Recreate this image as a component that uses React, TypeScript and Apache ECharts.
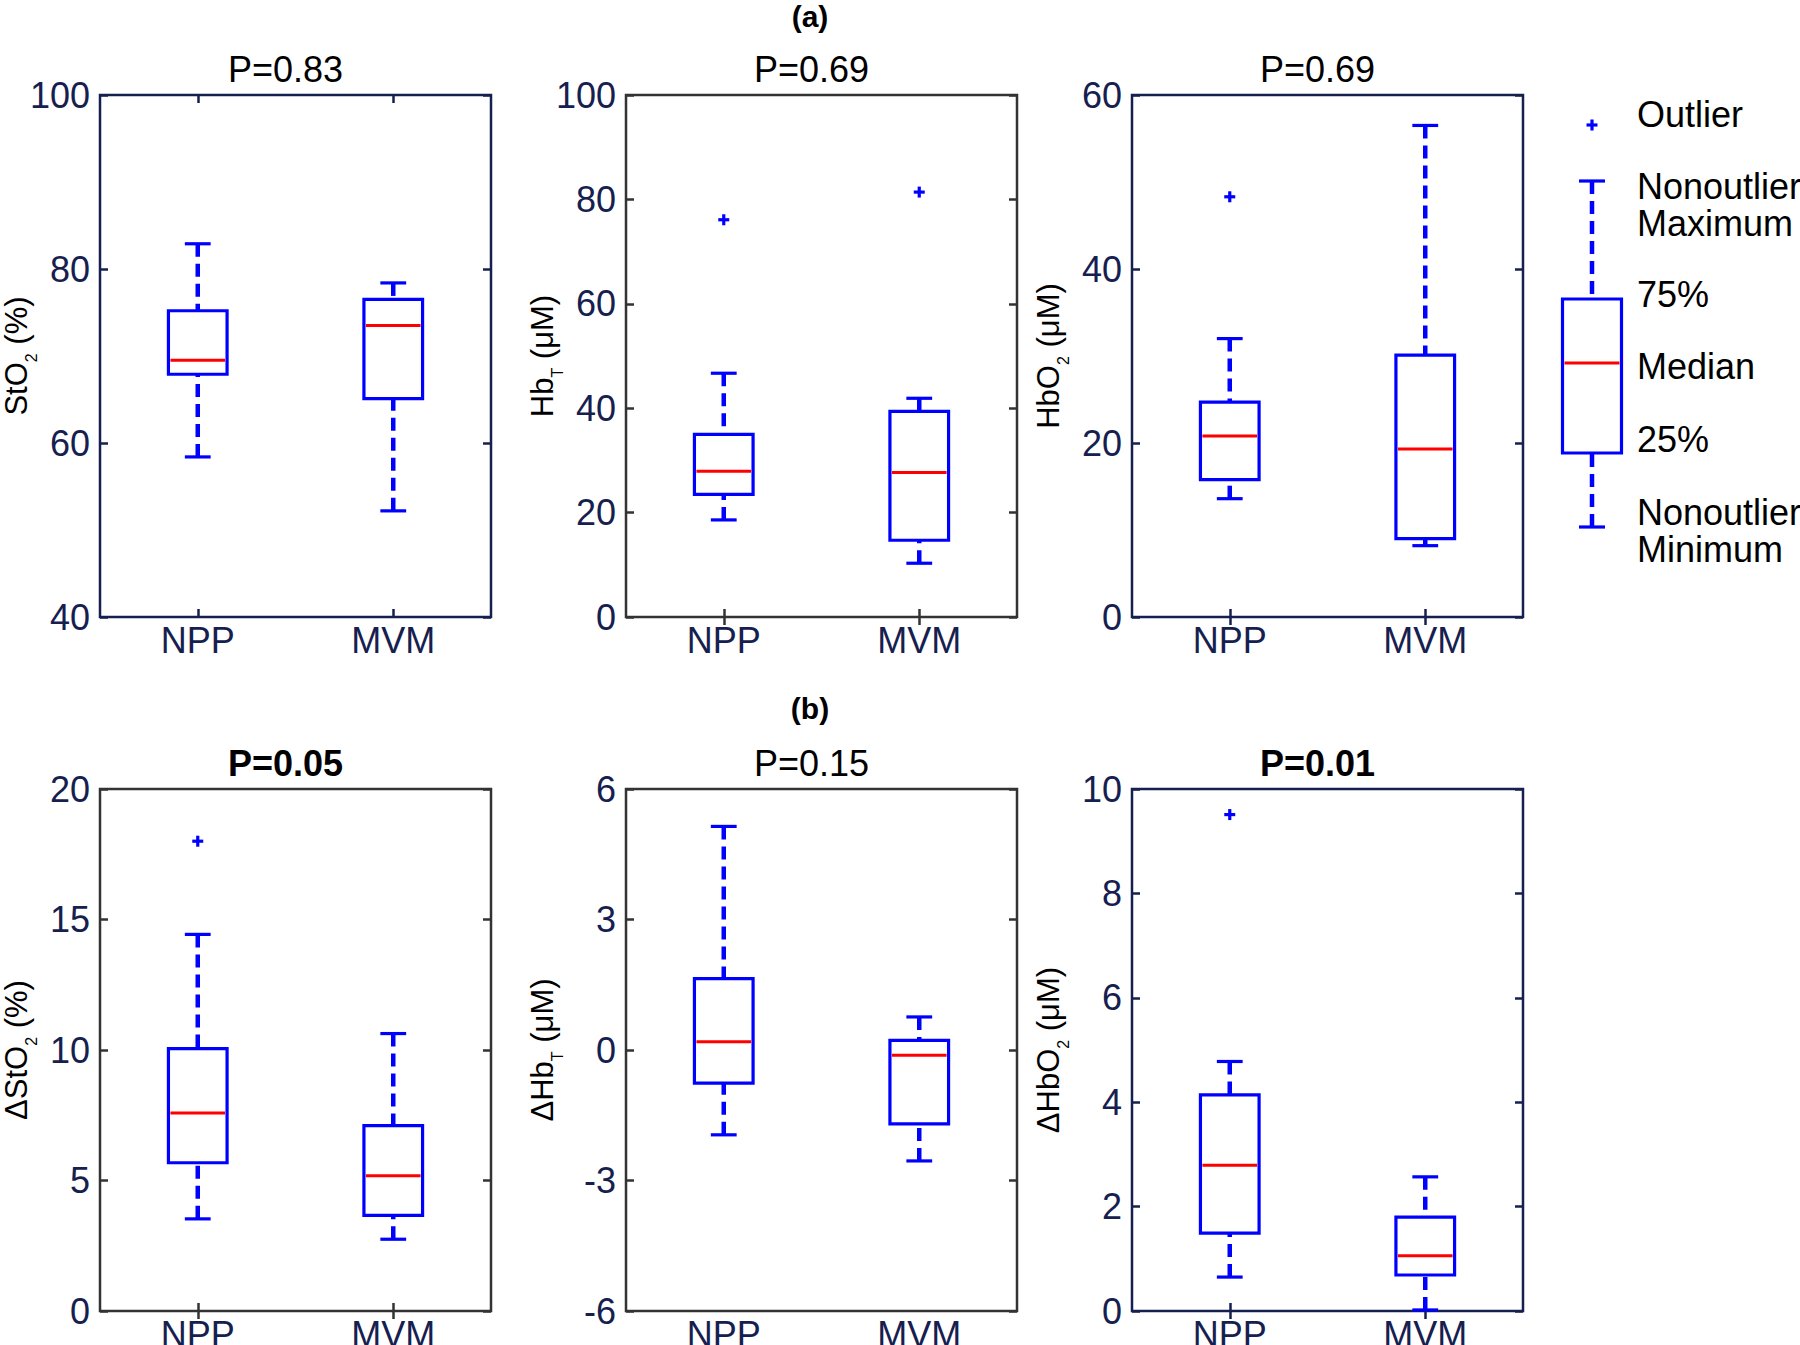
import React, { useEffect, useRef } from 'react';
import * as echarts from 'echarts';

// ---------- data ----------
const categories = ['NPP', 'MVM'];

// [nonoutlier min, 25%, median, 75%, nonoutlier max] per category
const sto2Stats = [
  [58.4, 67.9, 69.5, 75.2, 82.9],
  [52.2, 65.1, 73.5, 76.5, 78.4],
];
const sto2Outliers: number[][] = [];

const hbtStats = [
  [18.6, 23.5, 27.9, 35.0, 46.7],
  [10.3, 14.7, 27.7, 39.4, 41.9],
];
const hbtOutliers = [
  [0, 76.1],
  [1, 81.4],
];

const hbo2Stats = [
  [13.6, 15.8, 20.8, 24.7, 32.0],
  [8.2, 9.0, 19.3, 30.1, 56.5],
];
const hbo2Outliers = [[0, 48.3]];

const dSto2Stats = [
  [3.53, 5.68, 7.59, 10.05, 14.43],
  [2.75, 3.66, 5.18, 7.1, 10.63],
];
const dSto2Outliers = [[0, 18.0]];

const dHbtStats = [
  [-1.95, -0.76, 0.19, 1.64, 5.14],
  [-2.55, -1.7, -0.12, 0.22, 0.76],
];
const dHbtOutliers: number[][] = [];

const dHbo2Stats = [
  [0.65, 1.49, 2.79, 4.14, 4.78],
  [0.02, 0.69, 1.06, 1.8, 2.57],
];
const dHbo2Outliers = [[0, 9.51]];

const pValues = ['P=0.83', 'P=0.69', 'P=0.69', 'P=0.05', 'P=0.15', 'P=0.01'];
const pBold = [false, false, false, true, false, true];
const legendLabels = ['Outlier', 'Nonoutlier', 'Maximum', '75%', 'Median', '25%', 'Nonoutlier', 'Minimum'];

// ---------- styling ----------
const FONT = "'Liberation Sans', Arial, Helvetica, sans-serif";
const NAVY = '#16204f';
const GRAY = '#333333';
const BLUE = '#0000ff';
const RED = '#ff0000';

const panels = [
  { left: 100, top: 95, stats: sto2Stats, outliers: sto2Outliers, min: 40, max: 100, interval: 20, name: '{m|StO}{s|2}{m| (%)}', frame: NAVY },
  { left: 626, top: 95, stats: hbtStats, outliers: hbtOutliers, min: 0, max: 100, interval: 20, name: '{m|Hb}{s|T}{m| (μM)}', frame: GRAY },
  { left: 1132, top: 95, stats: hbo2Stats, outliers: hbo2Outliers, min: 0, max: 60, interval: 20, name: '{m|HbO}{s|2}{m| (μM)}', frame: NAVY },
  { left: 100, top: 789, stats: dSto2Stats, outliers: dSto2Outliers, min: 0, max: 20, interval: 5, name: '{m|ΔStO}{s|2}{m| (%)}', frame: GRAY },
  { left: 626, top: 789, stats: dHbtStats, outliers: dHbtOutliers, min: -6, max: 6, interval: 3, name: '{m|ΔHb}{s|T}{m| (μM)}', frame: GRAY },
  { left: 1132, top: 789, stats: dHbo2Stats, outliers: dHbo2Outliers, min: 0, max: 10, interval: 2, name: '{m|ΔHbO}{s|2}{m| (μM)}', frame: NAVY },
];
const GRID_W = 391;
const GRID_H = 522;

function boxRender(params: any, api: any) {
  const x = api.value(0);
  const lo = api.coord([x, api.value(1)]);
  const q1 = api.coord([x, api.value(2)]);
  const md = api.coord([x, api.value(3)]);
  const q3 = api.coord([x, api.value(4)]);
  const hi = api.coord([x, api.value(5)]);
  const band = api.size([1, 0])[0];
  const half = band * 0.15;
  const cap = band * 0.066;
  const cx = md[0];
  const dash = { stroke: BLUE, lineWidth: 4.5, lineDash: [13, 7], fill: null };
  const solid = { stroke: BLUE, lineWidth: 3.2, fill: null };
  return {
    type: 'group',
    children: [
      { type: 'line', shape: { x1: cx, y1: hi[1], x2: cx, y2: q3[1] }, style: dash },
      { type: 'line', shape: { x1: cx, y1: lo[1], x2: cx, y2: q1[1] }, style: dash },
      { type: 'line', shape: { x1: cx - cap, y1: hi[1], x2: cx + cap, y2: hi[1] }, style: solid },
      { type: 'line', shape: { x1: cx - cap, y1: lo[1], x2: cx + cap, y2: lo[1] }, style: solid },
      { type: 'rect', shape: { x: cx - half, y: q3[1], width: half * 2, height: q1[1] - q3[1] }, style: { stroke: BLUE, lineWidth: 3.2, fill: '#fff' } },
      { type: 'line', shape: { x1: cx - half + 2, y1: md[1], x2: cx + half - 2, y2: md[1] }, style: { stroke: RED, lineWidth: 3 } },
    ],
  };
}

function outlierRender(params: any, api: any) {
  const p = api.coord([api.value(0), api.value(1)]);
  const s = 5.5;
  return {
    type: 'group',
    children: [
      { type: 'line', shape: { x1: p[0] - s, y1: p[1], x2: p[0] + s, y2: p[1] }, style: { stroke: BLUE, lineWidth: 3.2 } },
      { type: 'line', shape: { x1: p[0], y1: p[1] - s, x2: p[0], y2: p[1] + s }, style: { stroke: BLUE, lineWidth: 3.2 } },
    ],
  };
}

function buildOption() {
  const grid: any[] = [];
  const xAxis: any[] = [];
  const yAxis: any[] = [];
  const series: any[] = [];
  const graphic: any[] = [];

  panels.forEach((p, i) => {
    grid.push({
      left: p.left, top: p.top, width: GRID_W, height: GRID_H, show: true,
      borderColor: p.frame, borderWidth: 2.5, backgroundColor: 'transparent',
      containLabel: false, outerBoundsMode: 'none',
    });
    const tick = { show: true, inside: true, length: 8, alignWithLabel: true, lineStyle: { color: p.frame, width: 2.5 } };
    xAxis.push({
      gridIndex: i, type: 'category', data: categories, position: 'bottom', boundaryGap: true,
      axisLine: { show: false }, axisTick: tick,
      axisLabel: { color: NAVY, fontSize: 36, fontFamily: FONT, margin: 5, hideOverlap: false },
      splitLine: { show: false },
    });
    xAxis.push({
      gridIndex: i, type: 'category', data: categories, position: 'top', boundaryGap: true,
      axisLine: { show: false }, axisTick: tick, axisLabel: { show: false }, splitLine: { show: false },
    });
    const yt = { show: true, inside: true, length: 8, lineStyle: { color: p.frame, width: 2.5 } };
    yAxis.push({
      gridIndex: i, type: 'value', min: p.min, max: p.max, interval: p.interval, position: 'left',
      axisLine: { show: false }, axisTick: yt, splitLine: { show: false },
      axisLabel: { color: NAVY, fontSize: 36, fontFamily: FONT, margin: 10 },
      name: p.name, nameLocation: 'middle', nameGap: 68, nameRotate: 90, nameMoveOverlap: false,
      nameTextStyle: {
        rich: {
          m: { fontSize: 31, lineHeight: 32, fontFamily: FONT, color: '#000' },
          s: { fontSize: 16, lineHeight: 2, height: 2, verticalAlign: 'bottom', fontFamily: FONT, color: '#000' },
        },
      },
    });
    yAxis.push({
      gridIndex: i, type: 'value', min: p.min, max: p.max, interval: p.interval, position: 'right',
      axisLine: { show: false }, axisTick: yt, splitLine: { show: false }, axisLabel: { show: false },
    });
    series.push({
      type: 'custom', xAxisIndex: i * 2, yAxisIndex: i * 2, renderItem: boxRender,
      encode: { x: 0, y: [1, 2, 3, 4, 5] },
      data: p.stats.map((s, c) => [c, ...s]),
      clip: false, z: 3,
    });
    series.push({
      type: 'custom', xAxisIndex: i * 2, yAxisIndex: i * 2, renderItem: outlierRender,
      encode: { x: 0, y: 1 },
      data: p.outliers,
      clip: false, z: 4,
    });
    graphic.push({
      type: 'text', x: p.left + GRID_W / 2 - 10, y: p.top - 26,
      style: { text: pValues[i], fontSize: 36, fontWeight: pBold[i] ? 'bold' : 'normal', fontFamily: FONT, fill: '#000', align: 'center', verticalAlign: 'middle' },
    });
  });

  // section labels
  graphic.push({ type: 'text', x: 810, y: 16, style: { text: '(a)', fontSize: 30, fontWeight: 'bold', fontFamily: FONT, fill: '#000', align: 'center', verticalAlign: 'middle' } });
  graphic.push({ type: 'text', x: 810, y: 708, style: { text: '(b)', fontSize: 30, fontWeight: 'bold', fontFamily: FONT, fill: '#000', align: 'center', verticalAlign: 'middle' } });

  // legend key
  const lx = 1592;
  const capY1 = 181, boxT = 299, medY = 363, boxB = 453, capY2 = 527;
  const solid = { stroke: BLUE, lineWidth: 3.2, fill: null };
  const dash = { stroke: BLUE, lineWidth: 4.5, lineDash: [13, 7], fill: null };
  graphic.push({ type: 'line', shape: { x1: lx - 5.5, y1: 125, x2: lx + 5.5, y2: 125 }, style: solid });
  graphic.push({ type: 'line', shape: { x1: lx, y1: 119.5, x2: lx, y2: 130.5 }, style: solid });
  graphic.push({ type: 'line', shape: { x1: lx, y1: capY1, x2: lx, y2: boxT }, style: dash });
  graphic.push({ type: 'line', shape: { x1: lx, y1: capY2, x2: lx, y2: boxB }, style: dash });
  graphic.push({ type: 'line', shape: { x1: lx - 13, y1: capY1, x2: lx + 13, y2: capY1 }, style: solid });
  graphic.push({ type: 'line', shape: { x1: lx - 13, y1: capY2, x2: lx + 13, y2: capY2 }, style: solid });
  graphic.push({ type: 'rect', shape: { x: lx - 29.5, y: boxT, width: 59, height: boxB - boxT }, style: { stroke: BLUE, lineWidth: 3.2, fill: '#fff' } });
  graphic.push({ type: 'line', shape: { x1: lx - 27.5, y1: medY, x2: lx + 27.5, y2: medY }, style: { stroke: RED, lineWidth: 3 } });
  const ly = [114, 186, 223, 294, 366, 439, 512, 549];
  legendLabels.forEach((t, k) => {
    graphic.push({ type: 'text', x: 1637, y: ly[k], style: { text: t, fontSize: 36, fontFamily: FONT, fill: '#000', align: 'left', verticalAlign: 'middle' } });
  });

  return { animation: false, backgroundColor: '#fff', grid, xAxis, yAxis, series, graphic };
}

export default function App() {
  const ref = useRef<HTMLDivElement>(null);
  useEffect(() => {
    if (!ref.current) return;
    const chart = echarts.init(ref.current, null, { renderer: 'svg' });
    chart.setOption(buildOption() as any);
    return () => chart.dispose();
  }, []);
  return <div ref={ref} style={{ position: 'fixed', left: 0, top: 0, width: 1800, height: 1345, background: '#fff' }} />;
}
